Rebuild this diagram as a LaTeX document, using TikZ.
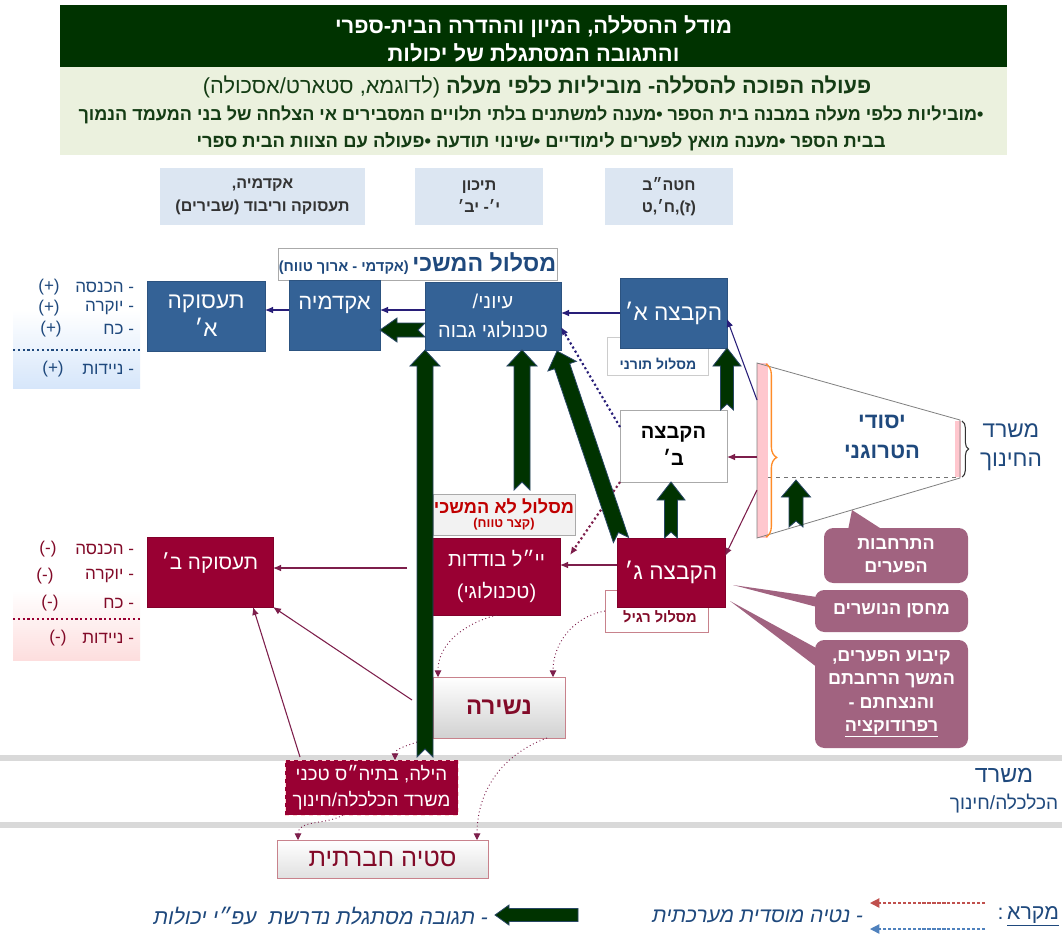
\documentclass[tikz,border=0pt]{standalone}
\usepackage{fontspec}
\setmainfont{Liberation Sans}[Script=Hebrew]
\newfontfamily\hebit{Liberation Sans}[Script=Hebrew,FakeSlant=0.2]
\TeXXeTstate=1
\usetikzlibrary{calc,arrows.meta,decorations.pathreplacing}
\newcommand\heb[1]{\beginR#1\endR}
\newcommand\fsz[2]{\fontsize{#1}{#2}\selectfont}
\definecolor{dgreen}{RGB}{0,51,0}
\definecolor{lgreen}{RGB}{235,241,222}
\definecolor{stext}{RGB}{20,60,20}
\definecolor{lblue}{RGB}{220,230,242}
\definecolor{bblue}{RGB}{52,98,150}
\definecolor{mnavy}{RGB}{31,73,125}
\definecolor{crim}{RGB}{153,0,51}
\definecolor{mauve}{RGB}{161,99,128}
\definecolor{navyarr}{RGB}{40,30,120}
\definecolor{crimarr}{RGB}{125,30,75}
\definecolor{gedge}{RGB}{40,70,100}
\definecolor{redtext}{RGB}{192,0,0}
\definecolor{pinkf}{RGB}{255,199,206}
\definecolor{orangeb}{RGB}{255,140,40}
\definecolor{bandgray}{RGB}{217,217,217}
\definecolor{boxgray}{RGB}{170,170,170}
\definecolor{pinkb}{RGB}{200,130,140}
\definecolor{legred}{RGB}{192,80,77}
\definecolor{legblue}{RGB}{79,129,189}
\definecolor{lbluebg}{RGB}{214,230,250}
\definecolor{lpinkbg}{RGB}{253,222,222}
\definecolor{dred}{RGB}{130,10,40}
\tikzset{
  every node/.style={inner sep=0pt, outer sep=0pt},
  sz/.style 2 args={minimum width=#1*0.75pt, minimum height=#2*0.75pt},
  bbox/.style={fill=bblue, draw=bblue!85!black, line width=0.4pt, text=white},
  cbox/.style={fill=crim, draw=crim!85!black, line width=0.4pt, text=white},
  lbbox/.style={fill=lblue, text=black!80, font=\bfseries\fsz{12pt}{17pt}, align=center},
  callout/.style={fill=mauve, rounded corners=7pt, text=white, font=\bfseries\fsz{13.5pt}{17.5pt}, align=center},
  garrowstyle/.style={fill=dgreen, draw=gedge, line width=0.6pt, line join=miter},
  navyarrow/.style={draw=navyarr, line width=0.8pt, -{Latex[length=6pt,width=5pt]}},
  crimarrow/.style={draw=crimarr, line width=0.8pt, -{Latex[length=6pt,width=5pt]}},
  dotcurve/.style={draw=crimarr, line width=0.7pt, dotted, -{Triangle[length=5pt,width=5pt]}},
  listblue/.style={text=mnavy, font=\fsz{12.8pt}{14pt}},
  listred/.style={text=dred, font=\fsz{12.8pt}{14pt}},
}
\newcommand\garrow[6]{%
  \coordinate (gaH) at ($#2!#5!#1$);
  \coordinate (gaN) at ($#1!#6!#2$);
  \path[garrowstyle] ($#1!#3!90:#2$) -- ($(gaH)!#3!90:#2$) -- ($(gaH)!#4!90:#2$) -- #2
    -- ($(gaH)!#4!-90:#2$) -- ($(gaH)!#3!-90:#2$) -- ($#1!#3!-90:#2$) -- (gaN) -- cycle;}
\begin{document}
\begin{tikzpicture}[x=0.75pt,y=-0.75pt]
\useasboundingbox (0,0) rectangle (1062,936);
\fill[white] (0,0) rectangle (1062,936);

% gray bands
\fill[bandgray] (0,755) rectangle (1062,761);
\fill[bandgray] (0,822) rectangle (1062,828);

% title and subtitle
\node[fill=dgreen, sz={947}{62}, text=white, font=\bfseries\fsz{16.5pt}{20pt}, align=center] (title) at (533.5,36) {};
\node[text=white, font=\bfseries\fsz{16.5pt}{20pt}, align=center] (titletxt) at (533.5,39)
  {\heb{מודל ההסללה, המיון וההדרה הבית-ספרי}\\[0.5pt]\heb{והתגובה המסתגלת של יכולות}};
\node[fill=lgreen, sz={947}{88}] (sub) at (533.5,111) {};
\node[text=stext, font=\fsz{16.3pt}{18pt}] (sub1) at (537,87)
  {\heb{\textbf{פעולה הפוכה להסללה- מוביליות כלפי מעלה} (לדוגמא, סטארט/אסכולה)}};
\node[text=stext, font=\bfseries\fsz{13.5pt}{15pt}] (sub2) at (531,115)
  {\heb{•מוביליות כלפי מעלה במבנה בית הספר •מענה למשתנים בלתי תלויים המסבירים אי הצלחה של בני המעמד הנמוך}};
\node[text=stext, font=\bfseries\fsz{13.8pt}{15pt}] (sub3) at (541,142)
  {\heb{בבית הספר •מענה מואץ לפערים לימודיים •שינוי תודעה •פעולה עם הצוות הבית ספרי}};

% light blue header boxes
\node[lbbox, sz={205}{57}] (lb1) at (262.5,196.5) {\heb{אקדמיה,}\\\heb{תעסוקה וריבוד (שבירים)}};
\node[lbbox, sz={128}{57}] (lb2) at (479,196.5) {\heb{תיכון}\\\heb{י׳- יב׳}};
\node[lbbox, sz={128}{57}] (lb3) at (669,196.5) {\heb{חטה״ב}\\\heb{(ז),ח׳,ט}};

% continuous track label
\node[draw=boxgray, fill=white, sz={279}{32}, text=mnavy] (maslul) at (417.5,264)
  {\heb{{\bfseries\fsz{17.4pt}{19pt}מסלול המשכי} {\bfseries\fsz{11pt}{12pt}(אקדמי - ארוך טווח)}}};

% blue boxes
\node[bbox, sz={118}{70}, align=center, font=\fsz{17pt}{21pt}] (taas1) at (206,316) {\heb{תעסוקה}\\\heb{א׳}};
\node[bbox, sz={91}{70}] (akad) at (334.5,315) {};
\node[text=white, font=\fsz{16.5pt}{20pt}] (akadtxt) at (334.5,305) {\heb{אקדמיה}};
\node[bbox, sz={136}{68}, align=center, font=\fsz{15pt}{22pt}] (iyuni) at (493,316) {\heb{עיוני/}\\\heb{טכנולוגי גבוה}};

% torani label (behind hakbatza A)
\node[draw=boxgray!60, fill=white, sz={101}{38}] (toranibox) at (657.5,356) {};
\node[text=mnavy, font=\bfseries\fsz{10.5pt}{12pt}] (torani) at (658,364) {\heb{מסלול תורני}};
\node[bbox, sz={107}{70}, font=\fsz{17pt}{20pt}] (hakA) at (673.5,313) {\heb{הקבצה א׳}};

% hakbatza B
\node[draw=boxgray, fill=white, sz={107}{72}, align=center, font=\bfseries\fsz{15pt}{20pt}] (hakB) at (673.5,446) {\heb{הקבצה}\\\heb{ב׳}};

% non continuous label
\node[draw=boxgray, fill=black!5, sz={142}{41}, align=center, text=redtext] (lomaslul) at (504,514.5)
  {{\bfseries\fsz{13.6pt}{15pt}\heb{מסלול לא המשכי}}\\[-2pt]{\bfseries\fsz{9.6pt}{11pt}\heb{(קצר טווח)}}};

% ragil label + hakbatza C
\node[draw=pinkb, fill=white, sz={103}{42}] (ragilbox) at (656.5,611) {};
\node[text=dred, font=\bfseries\fsz{11pt}{12pt}] (ragil) at (660,617) {\heb{מסלול רגיל}};
\node[cbox, sz={108}{69}, font=\fsz{17pt}{20pt}] (hakC) at (671,572.5) {\heb{הקבצה ג׳}};

% yyl
\node[cbox, sz={127}{77}, align=center, font=\fsz{15pt}{24pt}] (yyl) at (496.5,576.5) {\heb{יי״ל בודדות}\\\heb{(טכנולוגי)}};

% employment B
\node[cbox, sz={126}{70}] (taas2) at (210,572) {};
\node[text=white, font=\fsz{15.5pt}{18pt}] (taas2txt) at (210,563) {\heb{תעסוקה ב׳}};

% dropout
\node[draw=pinkb, top color=white, bottom color=black!18, sz={132}{61}, text=dred, font=\bfseries\fsz{18pt}{20pt}] (nshira) at (499,707.5) {\heb{נשירה}};

% hila
\node[fill=crim, draw=pink!70, dashed, line width=0.5pt, sz={173}{55}, text=white, align=center, font=\fsz{14pt}{19pt}] (hila) at (371.5,787.5)
  {\heb{הילה, בתיה״ס טכני}\\\heb{משרד הכלכלה/חינוך}};

% social deviance
\node[draw=pinkb, top color=white, bottom color=black!12, sz={211}{38}, text=dred, font=\fsz{19pt}{20pt}] (stia) at (382.5,859) {\heb{סטיה חברתית}};

% left lists (blue)
\shade[top color=white, bottom color=lbluebg] (13,310) rectangle (140,388);
\draw[mnavy, line width=1.6pt, dotted] (13,350) -- (140,350);
\node[listblue, anchor=east] (b1) at (134,287) {\heb{- הכנסה}};
\node[listblue, anchor=east] (b2) at (134,308) {\heb{- יוקרה}};
\node[listblue, anchor=east] (b3) at (134,329) {\heb{- כח}};
\node[listblue, anchor=east] (b4) at (134,369) {\heb{- ניידות}};
\node[listblue] (b1p) at (49,287) {(+)};
\node[listblue] (b2p) at (49,308) {(+)};
\node[listblue] (b3p) at (51,329) {(+)};
\node[listblue] (b4p) at (53,369) {(+)};

% left lists (red)
\shade[top color=white, bottom color=lpinkbg] (13,590) rectangle (140,660);
\draw[crim, line width=1.6pt, dotted] (13,619) -- (140,619);
\node[listred, anchor=east] (r1) at (134,549) {\heb{- הכנסה}};
\node[listred, anchor=east] (r2) at (134,576) {\heb{- יוקרה}};
\node[listred, anchor=east] (r3) at (134,603) {\heb{- כח}};
\node[listred, anchor=east] (r4) at (134,638) {\heb{- ניידות}};
\node[listred] (r1p) at (48,549) {(-)};
\node[listred] (r2p) at (45,576) {(-)};
\node[listred] (r3p) at (50,603) {(-)};
\node[listred] (r4p) at (58,638) {(-)};

% trapezoid
\coordinate (tTL) at (757,363);
\coordinate (tTR) at (960,420);
\coordinate (tBR) at (960,478);
\coordinate (tBL) at (757,538);
\fill[white] (tTL) -- (tTR) -- (tBR) -- (tBL) -- cycle;
\fill[pinkf] (757,363) rectangle (768,538);
\fill[pinkf] (955,421) rectangle (961,477);
\draw[black!50, line width=0.6pt] (tTL) -- (tTR) -- (tBR) -- (tBL) -- cycle;
\draw[black!55, dashed, line width=0.6pt] (768,477) -- (958,477);
\draw[orangeb, line width=1pt, decorate, decoration={brace, amplitude=8pt, aspect=0.54}] (766,364) -- (766,537);
\draw[black!80, line width=0.8pt, decorate, decoration={brace, amplitude=5pt}] (962,421) -- (962,477);
\node[text=mnavy, align=center, font=\bfseries\fsz{16.5pt}{23pt}] (hetero) at (882,437) {\heb{יסודי}\\\heb{הטרוגני}};
\node[text=mnavy, align=center, font=\fsz{17pt}{22pt}] (misrad1) at (1011,447) {\heb{משרד}\\\heb{החינוך}};
\node[text=mnavy, font=\fsz{17.5pt}{18pt}] (misrad2a) at (1004,775) {\heb{משרד}};
\node[text=mnavy, font=\fsz{14.3pt}{16pt}] (misrad2b) at (1004,804) {\heb{הכלכלה/חינוך}};

% callouts
\coordinate (c1tip) at (852,510);
\coordinate (c2tip) at (733,585);
\coordinate (c3tip) at (730,601);
\node[callout, sz={144}{55}] (c1) at (896,555.5) {\heb{התרחבות}\\\heb{הפערים}};
\node[callout, sz={153}{42}] (c2) at (891.5,611) {\heb{מחסן הנושרים}};
\node[callout, sz={153}{108}] (c3) at (891.5,694) {\heb{קיבוע הפערים,}\\\heb{המשך הרחבתם}\\\heb{והנצחתם -}\\\heb{\underline{רפרודוקציה}}};
\fill[mauve] (c1tip) -- ($(c1.north west)+(24,2)$) -- ($(c1.north west)+(59,2)$) -- cycle;
\fill[mauve] (c2tip) -- ($(c2.north west)+(2,7)$) -- ($(c2.north west)+(2,17)$) -- cycle;
\fill[mauve] (c3tip) -- ($(c3.north west)+(3,9)$) -- ($(c3.north west)+(3,28)$) -- cycle;

% thin arrows
\coordinate (trA) at (757,400);
\coordinate (trB) at (757,457);
\coordinate (trC) at (757,490);
\draw[navyarrow] (hakA.west) -- (iyuni.east |- hakA.west);
\draw[navyarrow] (iyuni.west |- 0,310) -- (akad.east |- 0,310);
\draw[navyarrow] (akad.west |- 0,310) -- (taas1.east |- 0,310);
\draw[navyarrow] (trA) -- (hakA.east |- 0,319);
\draw[crimarrow] (trB) -- (hakB.east |- trB);
\draw[crimarrow] (trC) -- (hakC.east |- 0,556);
\draw[crimarrow] (hakC.west |- 0,565) -- (yyl.east |- 0,565);
\coordinate (t2a) at (407,568);
\coordinate (t2b) at (412,700);
\coordinate (t2c) at (300,757);
\draw[crimarrow] (t2a) -- (taas2.east |- t2a);
\draw[crimarrow] (t2b) -- (taas2.south east);
\draw[crimarrow] (t2c) -- (253,607);

% dotted straight arrows
\draw[navyarr, line width=1.6pt, dotted, -{Latex[length=6pt,width=5pt]}] (hakB.west |- 0,427) -- (iyuni.east |- 0,327);
\draw[crimarr, line width=1.6pt, dotted, -{Latex[length=6pt,width=5pt]}] (hakB.south west) -- (570,555);

% dotted curved arrows
\coordinate (g1top) at (417,742);
\draw[dotcurve] (yyl.south) to[out=195,in=90] (nshira.north west -| 438,0);
\draw[dotcurve] (ragilbox.west) to[out=190,in=90] (nshira.north east -| 553,0);
\draw[dotcurve] (g1top) to[out=200,in=90] (hila.north -| 395,0);
\draw[dotcurve] (nshira.south east -| 547,0) to[out=200,in=90] (stia.north -| 477,0);
\draw[dotcurve] (hila.south -| 343,0) to[out=210,in=90] (stia.north -| 298,0);

% green block arrows
\coordinate (g1s) at (425,757);
\coordinate (g1e) at (iyuni.south -| g1s);
\garrow{(g1s)}{(g1e)}{6pt}{11.25pt}{12pt}{6pt}
\coordinate (g2s) at (522,490);
\coordinate (g2e) at (iyuni.south -| g2s);
\garrow{(g2s)}{(g2e)}{6pt}{11.25pt}{12pt}{6pt}
\coordinate (g3s) at (621,540);
\coordinate (g3e) at (557,351);
\garrow{(g3s)}{(g3e)}{6pt}{11.25pt}{12pt}{6pt}
\coordinate (g4s) at (hakB.north east);
\coordinate (g4e) at (hakA.south east);
\garrow{(g4s)}{(g4e)}{4.9pt}{10.5pt}{13.5pt}{4.5pt}
\coordinate (g5s) at (hakC.north);
\coordinate (g5e) at (hakB.south -| g5s);
\garrow{(g5s)}{(g5e)}{4.9pt}{10.5pt}{13.5pt}{4.5pt}
\coordinate (g6s) at (796,527);
\coordinate (g6e) at (796,480);
\garrow{(g6s)}{(g6e)}{5.25pt}{10.9pt}{12.75pt}{4.5pt}
\coordinate (g7s) at (iyuni.west |- 0,330);
\coordinate (g7e) at (akad.east |- 0,330);
\garrow{(g7s)}{(g7e)}{5.25pt}{9pt}{12.75pt}{5.25pt}

% legend
\node[text=mnavy, anchor=east, font=\fsz{16pt}{18pt}] (legtitle) at (1059,916) {\heb{\underline{מקרא}\,:}};
\coordinate (lr1) at (985,903);
\coordinate (lr2) at (870,903);
\coordinate (lb1s) at (985,929);
\coordinate (lb2e) at (870,929);
\draw[legred, line width=1pt, dash pattern=on 2.5pt off 1.2pt, -{Triangle[length=7pt,width=7pt]}] (lr1) -- (lr2);
\draw[legblue, line width=1pt, dash pattern=on 2.5pt off 1.2pt, -{Triangle[length=7pt,width=7pt]}] (lb1s) -- (lb2e);
\node[text=mnavy, anchor=east, font=\hebit\fsz{15.7pt}{18pt}] (leg1) at (862,916) {\heb{- נטיה מוסדית מערכתית}};
\coordinate (l3s) at (578,915);
\coordinate (l3e) at (495,915);
\garrow{(l3s)}{(l3e)}{4.9pt}{7.5pt}{10.5pt}{0pt}
\node[text=mnavy, anchor=east, font=\hebit\fsz{16pt}{18pt}] (leg2) at (487,916) {\heb{- תגובה מסתגלת נדרשת \ עפ״י יכולות}};
\end{tikzpicture}
\end{document}
